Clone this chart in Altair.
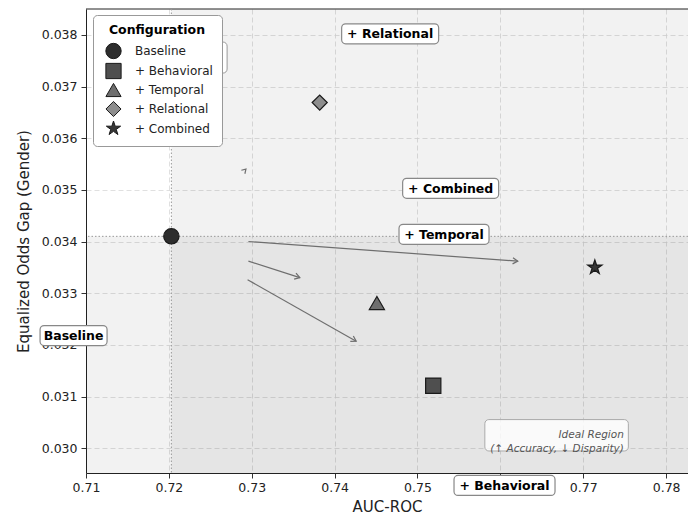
import math
import altair as alt
import pandas as pd

# ---------------- data ----------------
configs = ["Baseline", "+ Behavioral", "+ Temporal", "+ Relational", "+ Combined"]
auc_roc = [0.7203, 0.7519, 0.7451, 0.7382, 0.7714]
eo_gap = [0.03410, 0.03121, 0.03281, 0.03669, 0.03350]

label_text = ["Baseline", "+ Behavioral", "+ Temporal", "+ Relational", "+ Combined"]
label_x = [0.7085, 0.7605, 0.7532, 0.7467, 0.7540]
label_y = [0.03218, 0.02928, 0.03414, 0.03802, 0.03503]

arrow_x1 = [0.7296, 0.7296, 0.7295]
arrow_y1 = [0.03400, 0.03362, 0.03326]
arrow_x2 = [0.7621, 0.7358, 0.7426]
arrow_y2 = [0.03362, 0.03330, 0.03207]
stub_x = [0.7293]
stub_y = [0.03540]

ideal_text = "Ideal Region\n(\u2191 Accuracy, \u2193 Disparity)"
ideal_x = [0.7749]
ideal_y = [0.03025]

hidden_x = [0.7222]
hidden_y = [0.03756]

x_ticks = [0.71, 0.72, 0.73, 0.74, 0.75, 0.76, 0.77, 0.78]
y_ticks = [0.030, 0.031, 0.032, 0.033, 0.034, 0.035, 0.036, 0.037, 0.038]
X_DOMAIN = [0.71, 0.78264]
Y_DOMAIN = [0.02952, 0.03850]

# ---------------- style ----------------
W, H = 602, 464
FONT = "DejaVu Sans"
STAR = ("M0,-1L0.2245,-0.309L0.9511,-0.309L0.3633,0.118L0.5878,0.809L0,0.382"
        "L-0.5878,0.809L-0.3633,0.118L-0.9511,-0.309L-0.2245,-0.309Z")
CHEVRON = "M-1,-0.62L0,0L-1,0.62"
fills = ["#2d2d2d", "#4f4f4f", "#6e6e6e", "#8e8e8e", "#363636"]
shapes = ["circle", "square", "triangle-up", "diamond", STAR]
sizes = [235, 225, 225, 380, 385]
label_w = [67, 101, 90, 97, 96]

xs = alt.Scale(domain=X_DOMAIN, nice=False, zero=False)
ys = alt.Scale(domain=Y_DOMAIN, nice=False, zero=False)

x_axis = alt.Axis(values=x_ticks, format=".2f", labelFont=FONT, labelFontSize=12.5,
                  labelColor="#222", tickColor="#333", domainColor="#222", tickSize=5,
                  labelPadding=3, titleFont=FONT, titleFontSize=15, titleFontWeight="normal",
                  titleColor="#222", titlePadding=6, grid=True, gridColor="#d8d8d8",
                  gridDash=[5, 3], gridWidth=0.8, labelFlush=False, labelOverlap=False,
                  zindex=0)
y_axis = alt.Axis(values=y_ticks, format=".3f", labelFont=FONT, labelFontSize=12.5,
                  labelColor="#222", tickColor="#333", domainColor="#222", tickSize=5,
                  labelPadding=4, titleFont=FONT, titleFontSize=15, titleFontWeight="normal",
                  titleColor="#222", titlePadding=10, grid=True, gridColor="#d8d8d8",
                  gridDash=[5, 3], gridWidth=0.8, labelFlush=False, labelOverlap=False,
                  zindex=0)
XT, YT = "AUC-ROC", "Equalized Odds Gap (Gender)"


def X(f):
    return alt.X(f"{f}:Q", scale=xs, axis=x_axis, title=XT)


def Y(f):
    return alt.Y(f"{f}:Q", scale=ys, axis=y_axis, title=YT)


layers = []

# shaded regions
base_x, base_y = auc_roc[0], eo_gap[0]
shade = pd.DataFrame({"x1": [base_x, X_DOMAIN[0]], "x2": [X_DOMAIN[1], X_DOMAIN[1]],
                      "y1": [Y_DOMAIN[0], Y_DOMAIN[0]], "y2": [Y_DOMAIN[1], base_y]})
layers.append(alt.Chart(shade).mark_rect(color="black", opacity=0.05).encode(
    x=X("x1"), x2="x2", y=Y("y1"), y2="y2"))

# top spine
top = pd.DataFrame({"y": [Y_DOMAIN[1]]})
layers.append(alt.Chart(top).mark_rule(color="#222", strokeWidth=1).encode(y=Y("y")))

# dotted baseline reference lines
ref = pd.DataFrame({"x": [base_x], "y": [base_y]})
layers.append(alt.Chart(ref).mark_rule(color="#999", strokeDash=[1.5, 2], strokeWidth=1).encode(x=X("x")))
layers.append(alt.Chart(ref).mark_rule(color="#999", strokeDash=[1.5, 2], strokeWidth=1).encode(y=Y("y")))

# arrows
arr = pd.DataFrame({"x1": arrow_x1, "y1": arrow_y1, "x2": arrow_x2, "y2": arrow_y2})
px_x = W / (X_DOMAIN[1] - X_DOMAIN[0])
px_y = H / (Y_DOMAIN[1] - Y_DOMAIN[0])
arr["angle"] = [
    math.degrees(math.atan2(-(b2 - b1) * px_y, (a2 - a1) * px_x)) % 360
    for a1, b1, a2, b2 in zip(arrow_x1, arrow_y1, arrow_x2, arrow_y2)
]
layers.append(alt.Chart(arr).mark_rule(color="#6e6e6e", strokeWidth=1.2).encode(
    x=X("x1"), y=Y("y1"), x2="x2", y2="y2"))
layers.append(alt.Chart(arr).mark_point(shape=CHEVRON, filled=False, color="#6e6e6e",
                                        strokeWidth=1.2, opacity=1, size=100).encode(
    x=X("x2"), y=Y("y2"), angle=alt.Angle("angle:Q", scale=None)))
stub = pd.DataFrame({"x": stub_x, "y": stub_y, "angle": [315]})
layers.append(alt.Chart(stub).mark_point(shape=CHEVRON, filled=False, color="#6e6e6e",
                                         strokeWidth=1.2, opacity=1, size=64).encode(
    x=X("x"), y=Y("y"), angle=alt.Angle("angle:Q", scale=None)))

# hidden annotation box behind the legend
hid = pd.DataFrame({"x": hidden_x, "y": hidden_y})
layers.append(alt.Chart(hid).mark_rect(fill="white", stroke="#999", strokeWidth=1, cornerRadius=4,
                                       xOffset=-40, x2Offset=40, yOffset=-15.5, y2Offset=15.5).encode(
    x=X("x"), x2="x", y=Y("y"), y2="y"))

# label boxes
for t, lx, ly, w in zip(label_text, label_x, label_y, label_w):
    d = pd.DataFrame({"x": [lx], "y": [ly], "t": [t]})
    layers.append(alt.Chart(d).mark_rect(fill="white", stroke="#888", strokeWidth=1.2, cornerRadius=4,
                                         xOffset=-w / 2, x2Offset=w / 2, yOffset=-10, y2Offset=10).encode(
        x=X("x"), x2="x", y=Y("y"), y2="y"))
    layers.append(alt.Chart(d).mark_text(font=FONT, fontWeight="bold", fontSize=12.5, color="black",
                                         align="center", baseline="middle", dy=0.5).encode(
        x=X("x"), y=Y("y"), text="t:N"))

# ideal region note
ideal = pd.DataFrame({"x": ideal_x, "y": ideal_y, "t": [ideal_text]})
layers.append(alt.Chart(ideal).mark_rect(fill="white", fillOpacity=0.8, stroke="#aaa", strokeWidth=1,
                                         cornerRadius=4, xOffset=-139, x2Offset=4.5,
                                         yOffset=-15.7, y2Offset=15.7).encode(
    x=X("x"), x2="x", y=Y("y"), y2="y"))
layers.append(alt.Chart(ideal).mark_text(font=FONT, fontStyle="italic", fontSize=10.5, color="#555",
                                         align="right", baseline="middle", lineBreak="\n",
                                         lineHeight=13.4).encode(
    x=X("x"), y=Y("y"), text="t:N"))

# scatter points
pts = pd.DataFrame({"config": configs, "auc": auc_roc, "gap": eo_gap})
leg = alt.Legend(title="Configuration", orient="none", legendX=7, legendY=6,
                 fillColor="white", strokeColor="#999", cornerRadius=4, padding=9,
                 titleFont=FONT, titleFontSize=12.5, titleFontWeight="bold", titleColor="black",
                 titleAnchor="middle", titlePadding=6, labelFont=FONT, labelFontSize=12,
                 labelColor="#222", symbolSize=170, symbolStrokeColor="#1a1a1a",
                 symbolStrokeWidth=1, symbolOffset=3, labelOffset=13, rowPadding=-1)
layers.append(alt.Chart(pts).mark_point(filled=True, opacity=1, stroke="#1a1a1a", strokeWidth=1.2).encode(
    x=X("auc"), y=Y("gap"),
    color=alt.Color("config:N", scale=alt.Scale(domain=configs, range=fills), legend=leg),
    shape=alt.Shape("config:N", scale=alt.Scale(domain=configs, range=shapes), legend=leg),
    size=alt.Size("config:N", scale=alt.Scale(domain=configs, range=sizes), legend=None),
))

chart = alt.layer(*layers).properties(
    width=W, height=H,
    padding={"left": 78, "top": 1, "right": 0, "bottom": 44},
    autosize=alt.AutoSizeParams(type="none"),
    background="white",
).configure(font=FONT).configure_view(stroke="transparent", strokeWidth=0)

chart.save("out.html", embed_options={"renderer": "svg", "actions": False})
